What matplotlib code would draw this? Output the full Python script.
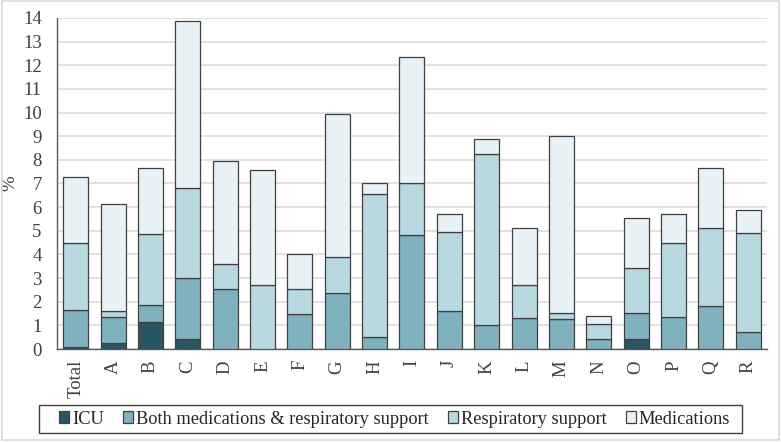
import numpy as np
import matplotlib.pyplot as plt
from matplotlib.patches import Rectangle

categories = ["Total", "A", "B", "C", "D", "E", "F", "G", "H", "I",
              "J", "K", "L", "M", "N", "O", "P", "Q", "R"]

# cumulative tops, converted to segment heights below
icu_top = [0.07, 0.25, 1.14, 0.41, 0, 0, 0, 0, 0, 0,
           0, 0, 0, 0, 0, 0.41, 0, 0, 0]
both_top = [1.64, 1.35, 1.85, 3.00, 2.54, 0, 1.48, 2.38, 0.49, 4.81,
            1.59, 1.03, 1.31, 1.27, 0.41, 1.51, 1.35, 1.82, 0.70]
resp_top = [4.47, 1.59, 4.85, 6.82, 3.58, 2.71, 2.55, 3.91, 6.54, 7.02,
            4.93, 8.26, 2.71, 1.51, 1.04, 3.41, 4.47, 5.13, 4.89]
med_top = [7.26, 6.12, 7.64, 13.89, 7.97, 7.56, 4.02, 9.93, 7.02, 12.34,
           5.71, 8.87, 5.13, 9.00, 1.40, 5.54, 5.71, 7.64, 5.86]

labels = ["ICU", "Both medications & respiratory support",
          "Respiratory support", "Medications"]
colors = ["#2a5563", "#80b1be", "#b9d9e0", "#e8f1f5"]

plt.rcParams["font.family"] = ["Liberation Serif", "DejaVu Serif"]

W, H = 781, 442
fig = plt.figure(figsize=(W / 100, H / 100), dpi=100)
fig.patches.append(Rectangle((0.002, 0.004), 0.996, 0.993, transform=fig.transFigure,
                             fill=False, edgecolor="#d9d9d9", linewidth=1.2))
ax = fig.add_axes([0.073, 0.2104, 0.909, 0.749])

x = np.arange(len(categories))
tops = [np.array(icu_top), np.array(both_top), np.array(resp_top), np.array(med_top)]
bottom = np.zeros(len(categories))
handles = []
for top, lab, col in zip(tops, labels, colors):
    h = np.maximum(top - bottom, 0)
    b = ax.bar(x, h, 0.67, bottom=bottom, color=col, edgecolor="#404040",
               linewidth=0.9, label=lab, zorder=3)
    handles.append(b)
    bottom = np.maximum(bottom, top)

ax.set_xlim(-0.5, len(categories) - 0.5)
ax.set_ylim(0, 14)
ax.set_yticks(range(0, 15))
ax.yaxis.grid(True, color="#dcdcdc", linewidth=1.2, zorder=0)
ax.set_xticks(x)
ax.set_xticklabels(categories, rotation=90, fontsize=13.5, color="#404040")
ax.tick_params(axis="y", labelsize=13.5, labelcolor="#404040", length=0, pad=11)
ax.tick_params(axis="x", length=0, pad=8)
ax.set_ylabel("%", fontsize=13.5, color="#404040", labelpad=3)
for s in ["top", "right"]:
    ax.spines[s].set_visible(False)
ax.spines["left"].set_color("#595959")
ax.spines["bottom"].set_color("#595959")
ax.spines["left"].set_linewidth(1.0)
ax.spines["bottom"].set_linewidth(1.0)

# legend box drawn separately so it can be wider than the entries
fig.patches.append(Rectangle((39 / W, 1 - 433 / H), (742 - 39) / W, 28 / H,
                             transform=fig.transFigure, fill=False,
                             edgecolor="#404040", linewidth=1.0))
leg = fig.legend(handles=handles, labels=labels, loc="center",
                 bbox_to_anchor=(394.5 / W, 1 - 419 / H), ncol=4, fontsize=13.2,
                 frameon=False, handlelength=0.55, handleheight=0.55,
                 handletextpad=0.15, columnspacing=1.05, borderpad=0.2)
for t in leg.get_texts():
    t.set_color("#262626")

fig.savefig("out.png", dpi=100)
